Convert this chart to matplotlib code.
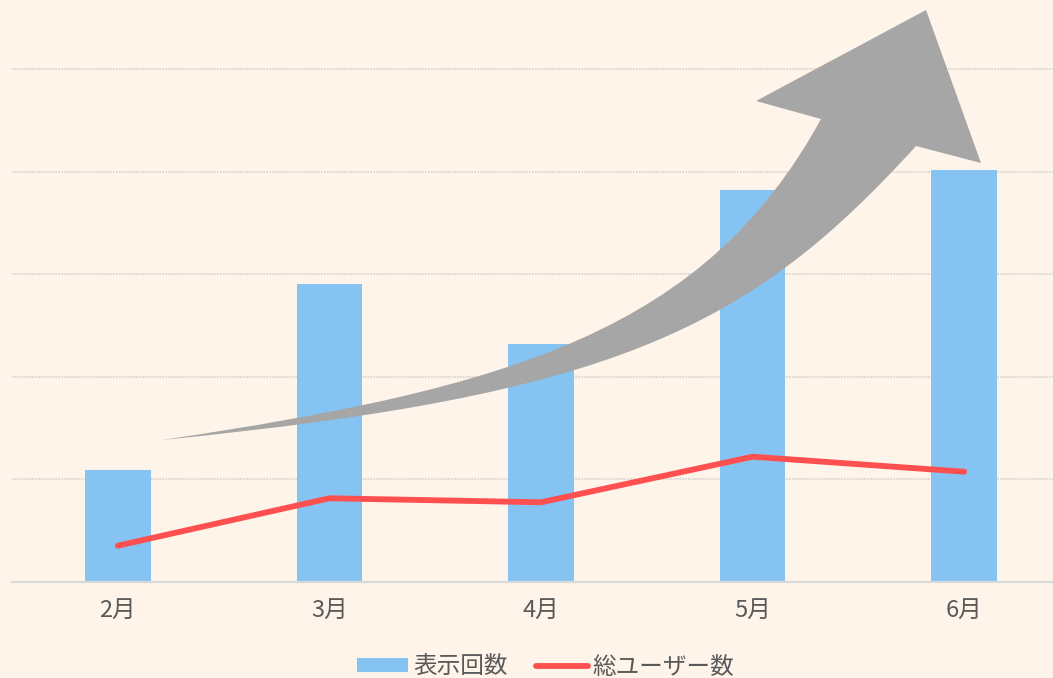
import matplotlib
matplotlib.use('Agg')
import matplotlib.pyplot as plt
from matplotlib.path import Path
from matplotlib.patches import PathPatch, Patch
from matplotlib.lines import Line2D

plt.rcParams['font.family'] = ['Noto Sans CJK JP', 'DejaVu Sans']

months = ['2月', '3月', '4月', '5月', '6月']
views = [1090, 2900, 2320, 3820, 4020]      # 表示回数
users = [354, 816, 777, 1221, 1075]         # 総ユーザー数
series_names = ['表示回数', '総ユーザー数']

# decorative growth arrow, in figure pixels (x right, y down)
arrow_upper = [(162, 440), (512, 388), (705, 331), (821, 119)]
arrow_head = [(756, 101), (926, 10), (981, 163), (916, 146)]
arrow_lower = [(748, 331), (612, 395), (162, 440)]

W, H = 1053, 678
bg = '#FEF4EA'
bar_color = '#85C4F2'
line_color = '#FF5050'
text_color = '#595959'


def main():
    fig = plt.figure(figsize=(W / 100, H / 100), dpi=100)
    fig.patch.set_facecolor(bg)
    ax = fig.add_axes([12 / W, 1 - 582 / H, 1058 / W, 5.5 * 102.6 / H])
    ax.set_facecolor(bg)

    x = range(len(months))
    ax.bar(x, views, width=0.31, color=bar_color, zorder=2)
    ax.plot(x, users, color=line_color, linewidth=4.2,
            solid_capstyle='round', solid_joinstyle='miter', zorder=4)

    ax.set_xlim(-0.5, 4.5)
    ax.set_ylim(0, 5500)
    ax.set_yticks([1000, 2000, 3000, 4000, 5000])
    ax.set_axisbelow(True)
    ax.yaxis.grid(True, ls=(0, (1, 0.6)), color='#DBD6D0', linewidth=1.3)
    ax.tick_params(axis='y', left=False, labelleft=False)
    ax.set_xticks(list(x))
    ax.set_xticklabels(months)
    ax.tick_params(axis='x', length=0, pad=12, labelsize=17,
                   labelcolor=text_color)
    for s in ['top', 'right', 'left']:
        ax.spines[s].set_visible(False)
    ax.spines['bottom'].set_color('#D9D9D9')
    ax.spines['bottom'].set_linewidth(1.6)

    # arrow
    pts = arrow_upper + arrow_head + arrow_lower
    codes = ([Path.MOVETO, Path.CURVE4, Path.CURVE4, Path.CURVE4]
             + [Path.LINETO] * 4
             + [Path.CURVE4] * 3)
    verts = [(px / W, 1 - py / H) for px, py in pts]
    arrow = PathPatch(Path(verts + [verts[0]], codes + [Path.CLOSEPOLY]),
                      facecolor='#A6A6A6', edgecolor='none',
                      transform=fig.transFigure, clip_on=False, zorder=3)
    ax.add_patch(arrow)

    handles = [Patch(facecolor=bar_color, edgecolor='none'),
               Line2D([], [], color=line_color, linewidth=4.2,
                      solid_capstyle='round')]
    fig.legend(handles, series_names, loc='center',
               bbox_to_anchor=(545.5 / W, 1 - 667 / H), ncol=2,
               frameon=False, fontsize=17, labelcolor=text_color,
               handlelength=2.2, handleheight=0.5, handletextpad=0.2,
               columnspacing=1.2)

    fig.savefig('out.png', dpi=100, facecolor=bg)


if __name__ == '__main__':
    main()
